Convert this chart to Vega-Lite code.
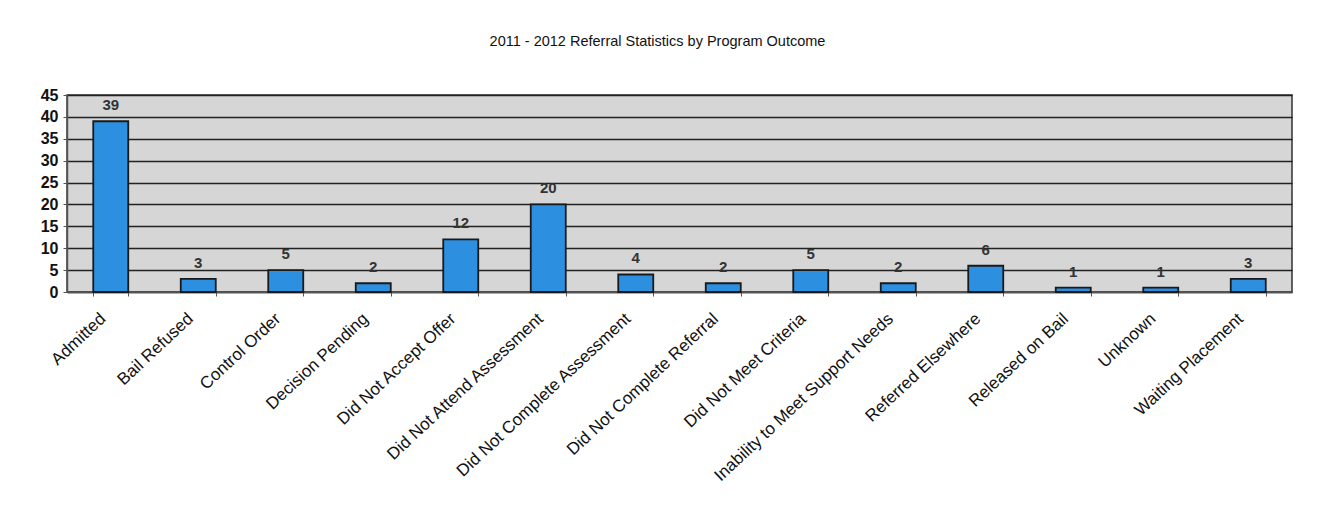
{
  "$schema": "https://vega.github.io/schema/vega-lite/v6.json",
  "autosize": "none",
  "width": 1225,
  "height": 197,
  "padding": {"left": 67, "top": 95, "right": 25, "bottom": 228},
  "background": "white",
  "title": {
    "text": "2011 - 2012 Referral Statistics by Program Outcome",
    "font": "Liberation Sans",
    "fontSize": 14.5,
    "fontWeight": "normal",
    "color": "#111111",
    "anchor": "middle",
    "offset": 38,
    "dx": -22
  },
  "config": {
    "view": {"fill": "#d6d6d6", "stroke": "#333333", "strokeWidth": 1.5},
    "font": "Liberation Sans"
  },
  "data": {
    "values": [
      {"outcome": "Admitted", "count": 39},
      {"outcome": "Bail Refused", "count": 3},
      {"outcome": "Control Order", "count": 5},
      {"outcome": "Decision Pending", "count": 2},
      {"outcome": "Did Not Accept Offer", "count": 12},
      {"outcome": "Did Not Attend Assessment", "count": 20},
      {"outcome": "Did Not Complete Assessment", "count": 4},
      {"outcome": "Did Not Complete Referral", "count": 2},
      {"outcome": "Did Not Meet Criteria", "count": 5},
      {"outcome": "Inability to Meet Support Needs", "count": 2},
      {"outcome": "Referred Elsewhere", "count": 6},
      {"outcome": "Released on Bail", "count": 1},
      {"outcome": "Unknown", "count": 1},
      {"outcome": "Waiting Placement", "count": 3}
    ]
  },
  "encoding": {
    "x": {
      "field": "outcome",
      "type": "nominal",
      "sort": null,
      "scale": {"paddingInner": 0.6, "paddingOuter": 0.3},
      "axis": {
        "title": null,
        "labelAngle": -43,
        "labelAlign": "right",
        "labelBaseline": "middle",
        "labelFontSize": 17,
        "labelColor": "#111111",
        "labelPadding": 20,
        "labelOffset": -8,
        "labelLimit": 500,
        "labelOverlap": false,
        "tickBand": "extent",
        "tickColor": "#555555",
        "tickSize": 4,
        "domainColor": "#555555",
        "domainWidth": 1.5,
        "grid": false
      }
    },
    "y": {
      "field": "count",
      "type": "quantitative",
      "scale": {"domain": [0, 45], "nice": false},
      "axis": {
        "title": null,
        "values": [0, 5, 10, 15, 20, 25, 30, 35, 40, 45],
        "labelFontSize": 16,
        "labelFontWeight": "bold",
        "labelColor": "#111111",
        "labelPadding": 5,
        "labelOverlap": false,
        "tickSize": 4,
        "tickColor": "#555555",
        "domainColor": "#555555",
        "domainWidth": 1.5,
        "grid": true,
        "gridColor": "#222222",
        "gridWidth": 1.3
      }
    }
  },
  "layer": [
    {
      "mark": {"type": "bar", "fill": "#2d8fe0", "stroke": "#1a1a1a", "strokeWidth": 1.8}
    },
    {
      "mark": {"type": "text", "dy": -8, "fontSize": 15, "fontWeight": "bold", "color": "#333333", "baseline": "bottom"},
      "encoding": {"text": {"field": "count", "type": "quantitative"}}
    }
  ]
}
